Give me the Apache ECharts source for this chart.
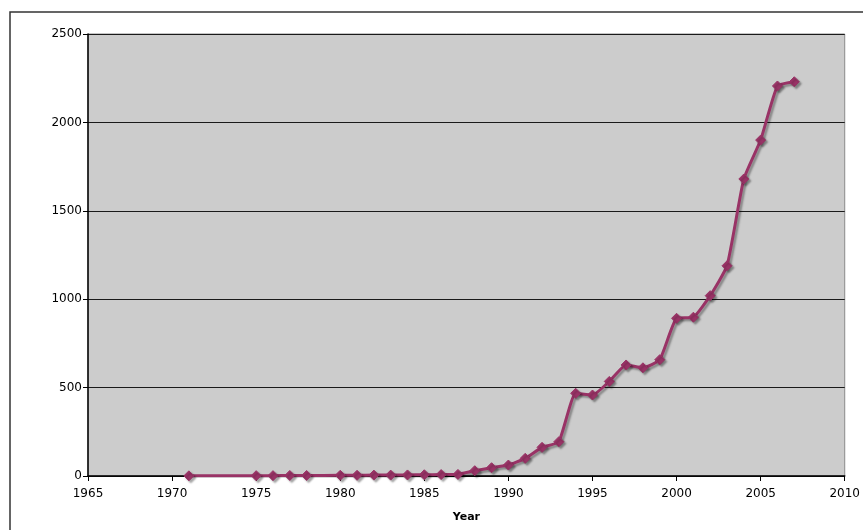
<!DOCTYPE html>
<html>
<head>
<meta charset="utf-8">
<script src="https://cdn.jsdelivr.net/npm/echarts@6/dist/echarts.min.js"></script>
<style>
  html, body { margin: 0; padding: 0; background: #ffffff; }
  #chart { width: 863px; height: 530px; }
</style>
</head>
<body>
<div id="chart"></div>
<script>
// Yearly totals plotted against calendar year
const years = [1971, 1975, 1976, 1977, 1978, 1980, 1981, 1982, 1983, 1984, 1985, 1986, 1987,
               1988, 1989, 1990, 1991, 1992, 1993, 1994, 1995, 1996, 1997, 1998, 1999,
               2000, 2001, 2002, 2003, 2004, 2005, 2006, 2007];
const totals = [1, 2, 2, 3, 3, 4, 4, 5, 5, 6, 7, 8, 9,
                30, 47, 62, 100, 162, 194, 468, 458, 535, 628, 612, 658,
                892, 898, 1020, 1189, 1680, 1900, 2206, 2230];
const xTicks = { min: 1965, max: 2010, step: 5 };
const yTicks = { min: 0, max: 2500, step: 500 };
const xTitle = 'Year';

const points = years.map((y, i) => [y, totals[i]]);
const font = 'DejaVu Sans, Verdana, sans-serif';
const plum = '#993366';
const plain = v => String(v);

const chart = echarts.init(document.getElementById('chart'));
chart.setOption({
  animation: false,
  backgroundColor: '#ffffff',
  graphic: [{
    type: 'rect',
    shape: { x: 10, y: 12, width: 880, height: 560 },
    style: { fill: 'none', stroke: '#333333', lineWidth: 1.5 },
    z: 0
  }],
  grid: {
    left: 88, right: 16, top: 34, bottom: 54,
    show: true,
    backgroundColor: '#cccccc',
    borderColor: '#8a8a8a',
    borderWidth: 1
  },
  xAxis: {
    type: 'value',
    min: xTicks.min, max: xTicks.max, interval: xTicks.step,
    name: xTitle,
    nameLocation: 'middle',
    nameGap: 36,
    nameTextStyle: { fontFamily: font, fontSize: 11, fontWeight: 'bold', color: '#000' },
    axisLine: { show: true, lineStyle: { color: '#000', width: 1.5 } },
    axisTick: { show: true, length: 5, lineStyle: { color: '#000' } },
    axisLabel: { fontFamily: font, fontSize: 12, color: '#000', margin: 12, formatter: plain },
    splitLine: { show: false }
  },
  yAxis: {
    type: 'value',
    min: yTicks.min, max: yTicks.max, interval: yTicks.step,
    axisLine: { show: true, lineStyle: { color: '#000', width: 1.5 } },
    axisTick: { show: true, length: 5, lineStyle: { color: '#000' } },
    axisLabel: { fontFamily: font, fontSize: 12, color: '#000', margin: 6, formatter: plain },
    splitLine: { show: true, lineStyle: { color: '#1a1a1a', width: 1.2 } }
  },
  series: [{
    type: 'line',
    data: points,
    smooth: 0.15,
    symbol: 'diamond',
    symbolSize: 10,
    lineStyle: {
      color: plum, width: 3,
      shadowColor: 'rgba(0,0,0,0.35)', shadowBlur: 2, shadowOffsetX: 2, shadowOffsetY: 2
    },
    itemStyle: {
      color: plum, borderColor: plum, borderWidth: 1,
      shadowColor: 'rgba(0,0,0,0.35)', shadowBlur: 2, shadowOffsetX: 2, shadowOffsetY: 2
    },
    z: 5
  }]
});
</script>
</body>
</html>
